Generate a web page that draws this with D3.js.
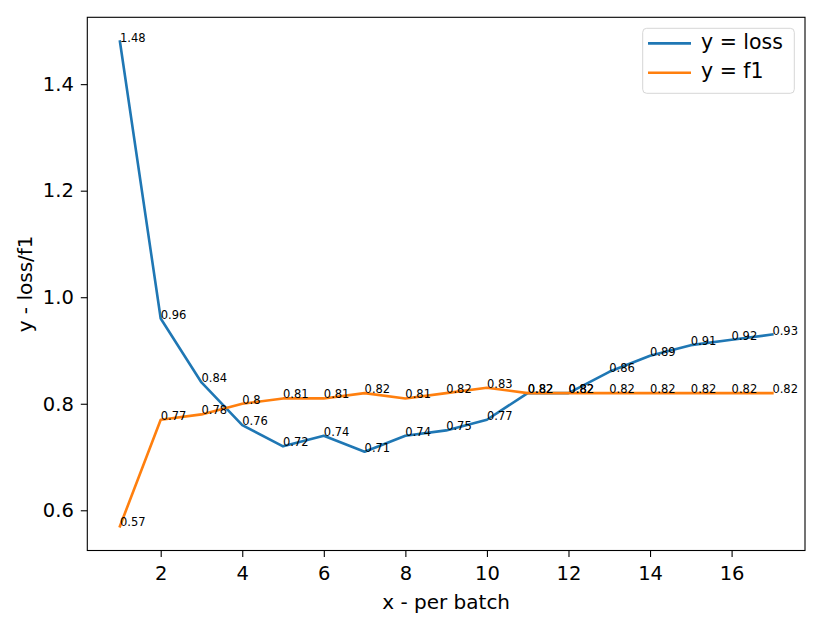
<!DOCTYPE html>
<html><head><meta charset="utf-8">
<script src="https://cdn.jsdelivr.net/npm/d3@7"></script>
<style>body{margin:0;background:#fff}svg{display:block}text{font-family:"DejaVu Sans",sans-serif}</style>
</head><body><svg id="c" width="830" height="628"></svg>
<script>
const batches = [1,2,3,4,5,6,7,8,9,10,11,12,13,14,15,16,17];
const loss = [1.48,0.96,0.84,0.76,0.72,0.74,0.71,0.74,0.75,0.77,0.82,0.82,0.86,0.89,0.91,0.92,0.93];
const f1 = [0.57,0.77,0.78,0.8,0.81,0.81,0.82,0.81,0.82,0.83,0.82,0.82,0.82,0.82,0.82,0.82,0.82];
const xTicks = [2,4,6,8,10,12,14,16];
const yTicks = [0.6,0.8,1.0,1.2,1.4];
const seriesNames = ["y = loss","y = f1"];
const colors = ["#1f77b4","#ff7f0e"];

const svg = d3.select("#c");
const L=87.3,R=805,T=17.3,B=550.5;
const x = d3.scaleLinear().domain([0.2,17.8]).range([L,R]);
const y = d3.scaleLinear().domain([0.5245,1.5255]).range([B,T]);

const series=[loss,f1];
const line = d3.line().x((d,i)=>x(batches[i])).y(d=>y(d));
series.forEach((s,k)=>{
  svg.append("path").datum(s).attr("d",line).attr("fill","none")
    .attr("stroke",colors[k]).attr("stroke-width",2.6).attr("stroke-linejoin","round").attr("stroke-linecap","square");
});
series.forEach((s)=>{
  svg.append("g").selectAll("text").data(s).join("text")
    .attr("x",(d,i)=>x(batches[i])).attr("y",d=>y(d))
    .attr("font-size",11.5).attr("fill","#000")
    .text(d=>String(d));
});

// axes
const xa = svg.append("g").attr("transform",`translate(0,${B})`)
  .call(d3.axisBottom(x).tickValues(xTicks).tickSize(6.5).tickPadding(9.5).tickFormat(d3.format("d")));
const ya = svg.append("g").attr("transform",`translate(${L},0)`)
  .call(d3.axisLeft(y).tickValues(yTicks).tickSize(6.5).tickPadding(7).tickFormat(d3.format(".1f")));
[xa,ya].forEach(a=>{
  a.select(".domain").remove();
  a.selectAll("line").attr("stroke","#000").attr("stroke-width",1.1);
  a.selectAll("text").attr("font-size",19.5).attr("fill","#000").attr("font-family","DejaVu Sans");
});
svg.append("rect").attr("x",L).attr("y",T).attr("width",R-L).attr("height",B-T)
  .attr("fill","none").attr("stroke","#000").attr("stroke-width",1.1);

svg.append("text").attr("x",(L+R)/2).attr("y",609).attr("text-anchor","middle")
  .attr("font-size",20).text("x - per batch");
svg.append("text").attr("transform",`translate(32,${(T+B)/2}) rotate(-90)`).attr("text-anchor","middle")
  .attr("font-size",20).text("y - loss/f1");

// legend
const lg = svg.append("g");
lg.append("rect").attr("x",642.7).attr("y",28.3).attr("width",151.6).attr("height",65).attr("rx",4)
  .attr("fill","#fff").attr("fill-opacity",0.8).attr("stroke","#d6d6d6").attr("stroke-width",1);
seriesNames.forEach((n,k)=>{
  const yy = 43.4 + k*29.3;
  lg.append("line").attr("x1",648).attr("x2",691).attr("y1",yy).attr("y2",yy)
    .attr("stroke",colors[k]).attr("stroke-width",2.6);
  lg.append("text").attr("x",701).attr("y",yy+5.7).attr("font-size",20.5).text(n);
});
</script></body></html>
